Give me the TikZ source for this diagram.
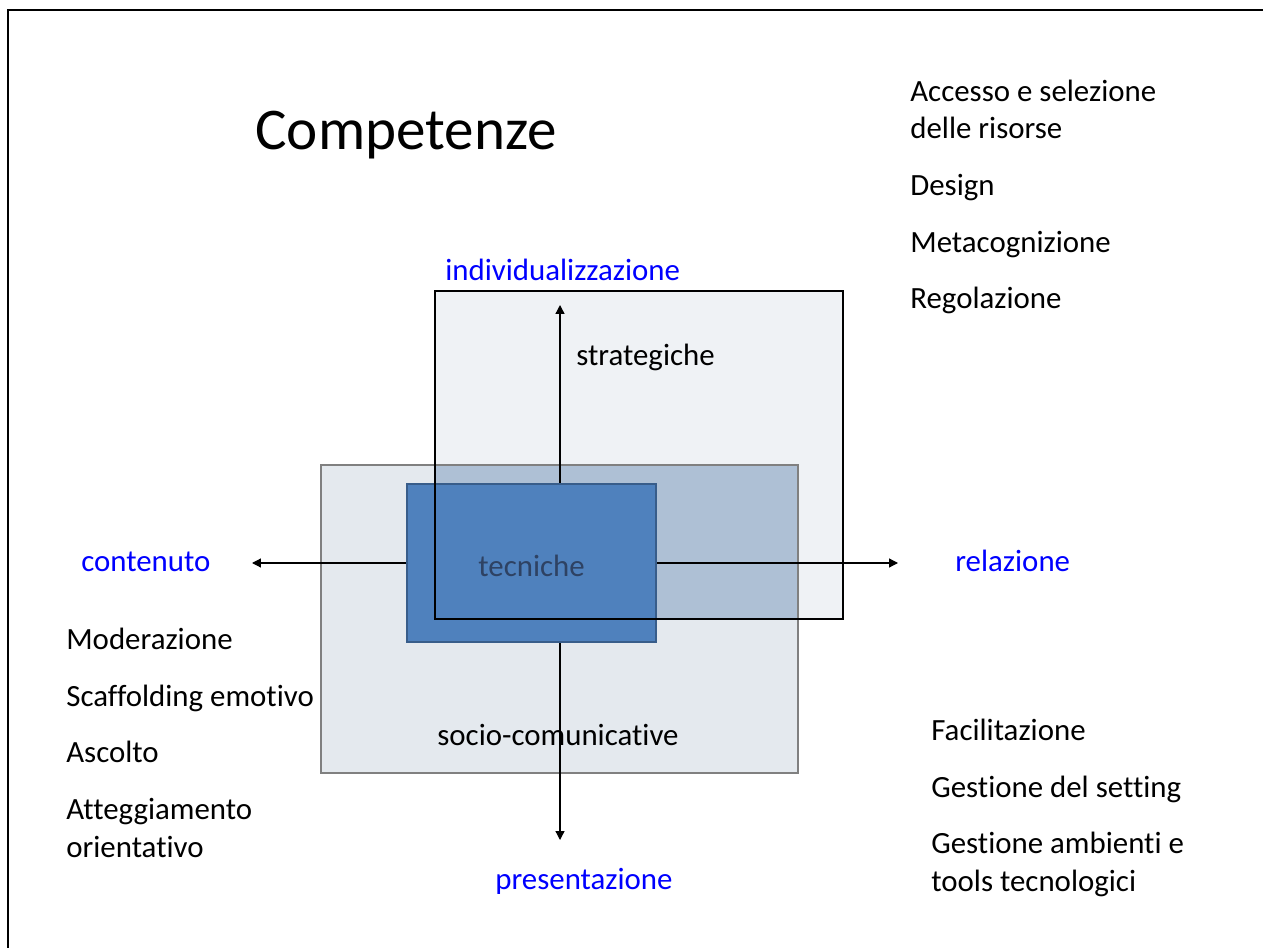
\documentclass[tikz,border=0pt]{standalone}
\usepackage{fontspec}
\setmainfont{Carlito}[Ligatures=NoCommon]
\usetikzlibrary{arrows.meta}
\tikzset{>={Triangle[width=5pt,length=5pt]}}
\definecolor{labelblue}{HTML}{0000FF}
\definecolor{sociofill}{HTML}{E4E9EE}
\definecolor{stratfill}{HTML}{EFF2F5}
\definecolor{overlapfill}{HTML}{AEC0D5}
\definecolor{tecnfill}{HTML}{4F81BD}
\definecolor{tecnborder}{HTML}{385D8A}
\definecolor{tecntext}{HTML}{2E4263}
\tikzset{
  txt/.style={anchor=base west, inner sep=0pt, font=\fontsize{17.6}{21}\selectfont},
  axlabel/.style={txt, text=labelblue},
}

\begin{document}
\begin{tikzpicture}[x=0.5701pt, y=-0.5701pt]

  \useasboundingbox (0,0) rectangle (1263,948);
  % slide frame
  \draw[line width=1.2pt] (8,948) -- (8,10) -- (1263,10);

  \node[txt, font=\fontsize{33.7}{40}\selectfont] (title) at (255,150) {Competenze};

  % areas
  \fill[stratfill] (435,291) rectangle (843,619);
  \fill[sociofill] (321,465) rectangle (798,773);
  \fill[overlapfill] (435,465) rectangle (798,619);
  \draw[gray, line width=0.6pt] (321,465) rectangle (798,773);

  % axes
  \coordinate (axN) at (560,305);
  \coordinate (axS) at (560,840);
  \coordinate (axW) at (252,563);
  \coordinate (axE) at (898,563);
  \draw[<->, line width=0.7pt] (axS) -- (axN);
  \draw[<->, line width=0.7pt] (axW) -- (axE);

  \filldraw[fill=tecnfill, draw=tecnborder, line width=0.6pt]
  (407,484) rectangle (656,642);
  \draw[line width=1.1pt] (435,291) rectangle (843,619);

  \node[txt, text=tecntext] (tecniche) at (478,576) {tecniche};
  \node[txt] (strategiche) at (576,366) {strategiche};
  \node[txt] (socio) at (437,745) {socio-comunicative};

  % axis labels
  \node[axlabel] (individ) at (445,281) {individualizzazione};
  \node[axlabel] (presentaz) at (495,889) {presentazione};
  \node[axlabel] (contenuto) at (81,571) {contenuto};
  \node[axlabel] (relazione) at (955,571) {relazione};

  % lists
  \node[txt] (accesso) at (910,102) {Accesso e selezione};
  \node[txt] (risorse) at (910,139) {delle risorse};
  \node[txt] (design) at (910,196) {Design};
  \node[txt] (metacogn) at (910,253) {Metacognizione};
  \node[txt] (regolaz) at (910,309) {Regolazione};

  \node[txt] (moderaz) at (66,649) {Moderazione};
  \node[txt] (scaffold) at (66,706) {Scaffolding emotivo};
  \node[txt] (ascolto) at (66,762) {Ascolto};
  \node[txt] (attegg) at (66,819) {Atteggiamento};
  \node[txt] (orient) at (66,857) {orientativo};

  \node[txt] (facilit) at (931,740) {Facilitazione};
  \node[txt] (setting) at (931,797) {Gestione del setting};
  \node[txt] (ambienti) at (931,853) {Gestione ambienti e};
  \node[txt] (tools) at (931,891) {tools tecnologici};

\end{tikzpicture}
\end{document}
